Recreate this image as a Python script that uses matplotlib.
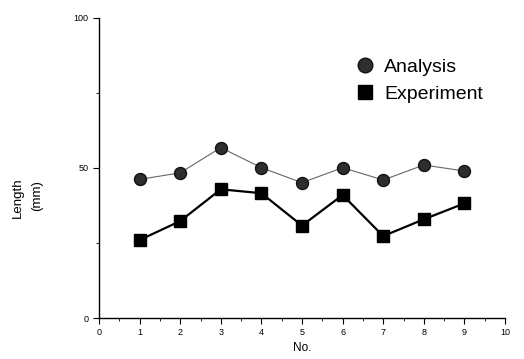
import matplotlib
matplotlib.use("Agg")
import matplotlib.pyplot as plt
from matplotlib.ticker import MultipleLocator
from matplotlib.lines import Line2D

no = [1, 2, 3, 4, 5, 6, 7, 8, 9]
analysis = [46.2, 48.4, 56.8, 50.1, 45.1, 50.1, 46.0, 51.0, 49.0]
experiment = [26.0, 32.3, 42.9, 41.6, 30.8, 41.0, 27.3, 32.9, 38.2]
xticks = [0, 1, 2, 3, 4, 5, 6, 7, 8, 9, 10]
yticks = [0, 50, 100]

plt.rcParams['font.family'] = ['Liberation Sans', 'DejaVu Sans']

W, H = 524, 359
fig = plt.figure(figsize=(W / 100, H / 100), dpi=100)
ax = fig.add_axes([99 / W, (H - 318) / H, (505 - 99) / W, 300 / H])

ax.plot(no, analysis, color='#666666', lw=0.8, marker='o', markersize=8.6,
        markerfacecolor='#2e2e2e', markeredgecolor='#111111', label='Analysis')
ax.plot(no, experiment, color='black', lw=1.6, marker='s', markersize=9.0,
        markerfacecolor='black', markeredgecolor='black', label='Experiment')

ax.set_xlim(0, 10)
ax.set_ylim(0, 100)
ax.set_xticks(xticks)
ax.set_yticks(yticks)
ax.xaxis.set_minor_locator(MultipleLocator(0.5))
ax.yaxis.set_minor_locator(MultipleLocator(25))
ax.tick_params(axis='both', which='major', labelsize=6.5, length=4, width=0.8,
               direction='out', pad=3.5)
ax.tick_params(axis='both', which='minor', length=2, width=0.6, direction='out')
for s in ['top', 'right']:
    ax.spines[s].set_visible(False)
for s in ['left', 'bottom']:
    ax.spines[s].set_linewidth(1.0)

ax.set_xlabel('No.', fontsize=8.5, labelpad=3)
fig.text(18 / W, 1 - 198 / H, 'Length', rotation=90, fontsize=9.5,
         ha='center', va='center')
fig.text(37 / W, 1 - 196 / H, '(mm)', rotation=90, fontsize=9.5,
         ha='center', va='center')

handles = [
    Line2D([], [], linestyle='none', marker='o', markersize=10.5,
           markerfacecolor='#2e2e2e', markeredgecolor='#111111'),
    Line2D([], [], linestyle='none', marker='s', markersize=10.5,
           markerfacecolor='black', markeredgecolor='black'),
]
fig.legend(handles, ['Analysis', 'Experiment'], loc='center left',
           bbox_to_anchor=(355 / W, 1 - 80.5 / H),
           frameon=False, fontsize=14, handlelength=1.0, handletextpad=0.5,
           labelspacing=0.5, borderpad=0, borderaxespad=0)

fig.savefig('out.png', dpi=100)
